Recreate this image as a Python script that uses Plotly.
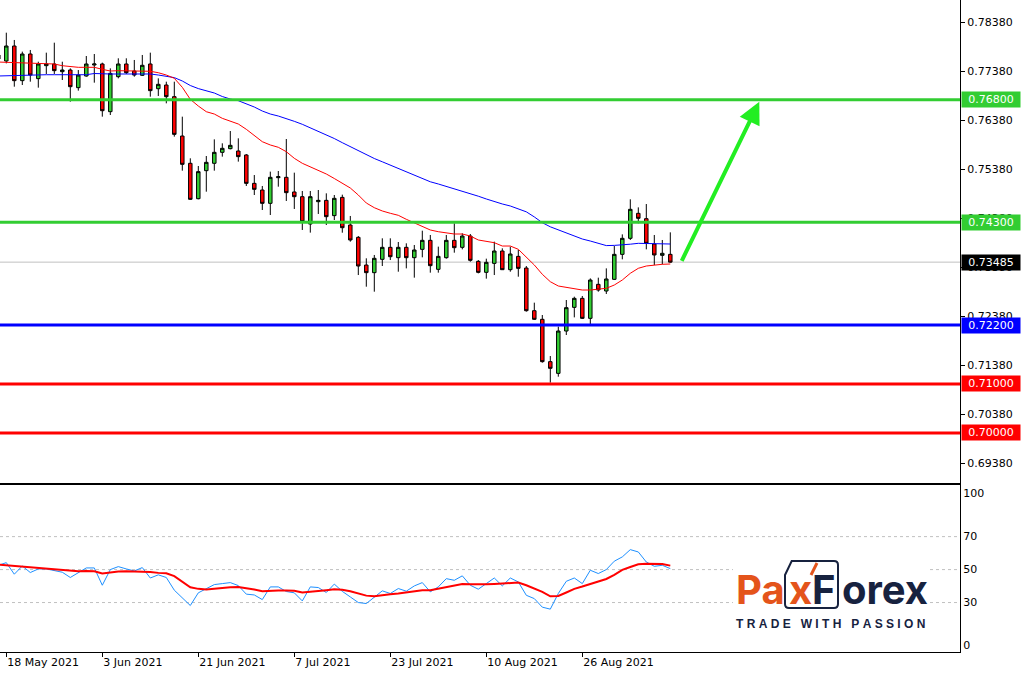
import plotly.graph_objects as go

# ---------------- data ----------------
month_days = [
    ("05", [17, 18, 19, 20, 21, 24, 25, 26, 27, 28, 31]),
    ("06", [1, 2, 3, 4, 7, 8, 9, 10, 11, 14, 15, 16, 17, 18, 21, 22, 23, 24, 25, 28, 29, 30]),
    ("07", [1, 2, 5, 6, 7, 8, 9, 12, 13, 14, 15, 16, 19, 20, 21, 22, 23, 26, 27, 28, 29, 30]),
    ("08", [2, 3, 4, 5, 6, 9, 10, 11, 12, 13, 16, 17, 18, 19, 20, 23, 24, 25, 26, 27, 30, 31]),
    ("09", [1, 2, 3, 6, 7, 8, 9, 10]),
]
dates = [f"2021-{m}-{d:02d}" for m, ds in month_days for d in ds]

opens = [0.77712, 0.77590, 0.77896, 0.77189, 0.77733, 0.77230, 0.77495, 0.77529, 0.77372, 0.77406,
         0.77046, 0.77284, 0.77508, 0.77529, 0.76556, 0.77270, 0.77529, 0.77386, 0.77298, 0.77529,
         0.77025, 0.77100, 0.76862, 0.76059, 0.75502, 0.74780, 0.75352, 0.75502, 0.75726, 0.75801,
         0.75753, 0.75672, 0.75093, 0.74957, 0.74685, 0.75209, 0.75216, 0.74917, 0.74821, 0.74263,
         0.74719, 0.74746, 0.74434, 0.74807, 0.74243, 0.73991, 0.73426, 0.73270, 0.73542, 0.73787,
         0.73576, 0.73787, 0.73576, 0.73746, 0.73930, 0.73338, 0.73576, 0.73930, 0.73787, 0.74018,
         0.73501, 0.73277, 0.73460, 0.73712, 0.73331, 0.73603, 0.73365, 0.72494, 0.72318, 0.71454,
         0.71215, 0.72079, 0.72562, 0.72746, 0.72338, 0.73032, 0.72896, 0.73134, 0.73644, 0.73971,
         0.74481, 0.74372, 0.73855, 0.73624, 0.73644]
highs = [0.77760, 0.78168, 0.78019, 0.77781, 0.77815, 0.77576, 0.77760, 0.77964, 0.77576, 0.77440,
         0.77406, 0.77692, 0.77733, 0.77556, 0.77440, 0.77645, 0.77645, 0.77611, 0.77713, 0.77760,
         0.77236, 0.77168, 0.77168, 0.76454, 0.75604, 0.75447, 0.75651, 0.75991, 0.75910, 0.76161,
         0.76012, 0.75692, 0.75263, 0.75039, 0.75332, 0.75345, 0.75998, 0.75311, 0.74937, 0.74937,
         0.74957, 0.74889, 0.74855, 0.74862, 0.74427, 0.74018, 0.73563, 0.73631, 0.73971, 0.73971,
         0.73896, 0.73869, 0.73835, 0.74127, 0.74039, 0.73801, 0.74039, 0.74277, 0.74073, 0.74059,
         0.73528, 0.73556, 0.73903, 0.73767, 0.73801, 0.73733, 0.73406, 0.72658, 0.72406, 0.71569,
         0.72168, 0.72712, 0.72780, 0.72794, 0.73154, 0.73168, 0.73358, 0.73814, 0.74052, 0.74767,
         0.74603, 0.74671, 0.74039, 0.73937, 0.74093]
lows = [0.77590, 0.77542, 0.77066, 0.77100, 0.77168, 0.77046, 0.77325, 0.77325, 0.77202, 0.76760,
        0.76985, 0.77270, 0.77148, 0.76454, 0.76488, 0.77236, 0.77325, 0.77270, 0.77284, 0.76862,
        0.76876, 0.76726, 0.76046, 0.75352, 0.74753, 0.74767, 0.74923, 0.75352, 0.75638, 0.75787,
        0.75536, 0.75039, 0.74855, 0.74549, 0.74447, 0.75025, 0.74733, 0.74570, 0.74141, 0.74087,
        0.74468, 0.74243, 0.74345, 0.74086, 0.73903, 0.73222, 0.72984, 0.72882, 0.73406, 0.73528,
        0.73290, 0.73358, 0.73168, 0.73583, 0.73270, 0.73270, 0.73556, 0.73678, 0.73746, 0.73494,
        0.73256, 0.73148, 0.73222, 0.73324, 0.73290, 0.73188, 0.72474, 0.72304, 0.71433, 0.71025,
        0.71147, 0.71998, 0.72358, 0.72324, 0.72222, 0.72882, 0.72835, 0.73120, 0.73542, 0.73937,
        0.74277, 0.73746, 0.73426, 0.73440, 0.73474]
closes = [0.77631, 0.77896, 0.77189, 0.77733, 0.77304, 0.77529, 0.77529, 0.77393, 0.77406, 0.77066,
          0.77304, 0.77529, 0.77529, 0.76576, 0.77338, 0.77529, 0.77352, 0.77304, 0.77502, 0.76985,
          0.77114, 0.76862, 0.76093, 0.75481, 0.74767, 0.75332, 0.75522, 0.75726, 0.75808, 0.75869,
          0.75638, 0.75093, 0.74971, 0.74685, 0.75216, 0.75229, 0.74903, 0.74821, 0.74311, 0.74821,
          0.74746, 0.74413, 0.74787, 0.74188, 0.73937, 0.73406, 0.73270, 0.73563, 0.73787, 0.73596,
          0.73787, 0.73576, 0.73733, 0.73930, 0.73413, 0.73603, 0.73930, 0.73780, 0.74018, 0.73522,
          0.73277, 0.73481, 0.73712, 0.73331, 0.73651, 0.73358, 0.72494, 0.72318, 0.71454, 0.71318,
          0.72079, 0.72556, 0.72746, 0.72338, 0.73120, 0.72916, 0.73141, 0.73644, 0.73971, 0.74563,
          0.74379, 0.73869, 0.73631, 0.73665, 0.73485]

ma_fast = [0.77569, 0.77563, 0.77563, 0.77555, 0.77549, 0.77543, 0.77543, 0.77529, 0.77494, 0.77473,
           0.77461, 0.77461, 0.77461, 0.77420, 0.77386, 0.77392, 0.77392, 0.77392, 0.77386, 0.77380,
           0.77351, 0.77304, 0.77237, 0.77053, 0.76808, 0.76671, 0.76555, 0.76508, 0.76420, 0.76365,
           0.76304, 0.76196, 0.76065, 0.75943, 0.75876, 0.75829, 0.75739, 0.75604, 0.75502, 0.75433,
           0.75365, 0.75284, 0.75192, 0.75100, 0.74998, 0.74855, 0.74692, 0.74596, 0.74529, 0.74482,
           0.74441, 0.74359, 0.74290, 0.74223, 0.74141, 0.74106, 0.74086, 0.74059, 0.74059, 0.74018,
           0.73937, 0.73916, 0.73882, 0.73814, 0.73814, 0.73747, 0.73596, 0.73427, 0.73237, 0.73086,
           0.72998, 0.72972, 0.72943, 0.72916, 0.72916, 0.72931, 0.72951, 0.73018, 0.73120, 0.73257,
           0.73359, 0.73406, 0.73427, 0.73441, 0.73447]
ma_slow = [0.77284, 0.77290, 0.77296, 0.77304, 0.77308, 0.77310, 0.77310, 0.77310, 0.77310, 0.77310,
           0.77310, 0.77310, 0.77335, 0.77325, 0.77325, 0.77325, 0.77325, 0.77325, 0.77325, 0.77325,
           0.77304, 0.77274, 0.77251, 0.77182, 0.77090, 0.77027, 0.76982, 0.76937, 0.76865, 0.76814,
           0.76780, 0.76718, 0.76651, 0.76569, 0.76508, 0.76467, 0.76418, 0.76359, 0.76298, 0.76227,
           0.76155, 0.76084, 0.76008, 0.75923, 0.75839, 0.75757, 0.75676, 0.75600, 0.75533, 0.75465,
           0.75392, 0.75318, 0.75249, 0.75186, 0.75125, 0.75080, 0.75033, 0.74984, 0.74929, 0.74880,
           0.74831, 0.74774, 0.74716, 0.74672, 0.74631, 0.74576, 0.74512, 0.74408, 0.74290, 0.74206,
           0.74145, 0.74080, 0.74018, 0.73957, 0.73916, 0.73872, 0.73823, 0.73827, 0.73835, 0.73851,
           0.73869, 0.73869, 0.73869, 0.73869, 0.73855]

osc_main = [52.6, 54.2, 47.2, 52.2, 48.2, 50.4, 50.4, 49.2, 48.4, 45.2, 48.0, 51.0, 51.0, 40.5, 50.0,
            51.8, 50.4, 49.2, 51.2, 44.9, 46.8, 45.2, 37.5, 33.0, 28.2, 35.9, 38.3, 40.9, 41.5, 42.1,
            40.3, 35.1, 34.6, 31.8, 39.5, 39.5, 36.7, 35.9, 31.0, 39.5, 39.1, 36.1, 41.2, 36.8, 33.4,
            30.0, 29.4, 33.4, 37.1, 35.5, 38.5, 36.9, 40.1, 42.1, 36.5, 39.5, 44.5, 43.5, 46.2, 40.5,
            38.1, 41.5, 44.9, 40.1, 44.9, 42.5, 34.4, 32.4, 27.2, 26.0, 35.5, 42.9, 44.9, 41.5, 49.6,
            47.6, 50.0, 55.1, 57.7, 62.1, 60.7, 54.6, 52.0, 52.6, 50.6]
osc_signal = [53.0, 52.6, 52.2, 51.8, 51.2, 50.8, 50.4, 50.2, 49.8, 49.4, 49.0, 49.2, 49.0, 47.6, 48.4,
              48.8, 49.0, 49.0, 49.0, 48.6, 48.0, 47.8, 46.0, 42.5, 39.3, 38.3, 37.9, 38.3, 38.9, 39.3,
              39.5, 38.9, 37.9, 36.9, 37.3, 37.3, 37.3, 37.1, 36.1, 36.7, 37.1, 37.5, 38.0, 37.7, 36.9,
              35.7, 34.2, 33.8, 34.6, 35.1, 35.5, 36.3, 37.1, 37.5, 37.5, 38.5, 39.7, 40.5, 41.3, 41.1,
              40.9, 41.1, 41.3, 41.5, 41.9, 42.1, 40.5, 38.7, 36.5, 33.8, 34.0, 36.1, 38.3, 39.7, 41.3,
              42.7, 44.3, 46.8, 49.8, 51.6, 53.2, 53.6, 53.6, 53.4, 52.4]

n = len(dates)
for arr in (opens, highs, lows, closes, ma_fast, ma_slow, osc_main, osc_signal):
    assert len(arr) == n, len(arr)

date_tick_vals = ["2021-05-18", "2021-06-03", "2021-06-21", "2021-07-07",
                  "2021-07-23", "2021-08-10", "2021-08-26"]
date_tick_text = ["18 May 2021", "3 Jun 2021", "21 Jun 2021", "7 Jul 2021",
                  "23 Jul 2021", "10 Aug 2021", "26 Aug 2021"]
price_ticks = [0.69380, 0.70380, 0.71380, 0.72380, 0.73380,
               0.74380, 0.75380, 0.76380, 0.77380, 0.78380]
level_prices = [0.76800, 0.74300, 0.72200, 0.71000, 0.70000]
level_colors = ["#32CD32", "#32CD32", "#0000FF", "#FF0000", "#FF0000"]
current_price = closes[-1]
osc_levels = [70, 50, 30]
osc_tick_vals = [3.9, 30, 50, 70, 96.5]
osc_tick_text = ["0", "30", "50", "70", "100"]
target_price = 0.76759          # arrow tip
arrow_start_price = 0.73482
arrow_start_idx, arrow_end_idx = 85.34, 95.125

# ---------------- geometry ----------------
W, H = 1021, 673
ML, MR, MT, MB = 0, 61, 0, 21
PW, PH = W - ML - MR, H - MT - MB
X_RANGE = [0.2125, 120.2125]
MAIN_DOMAIN = [0.2597, 1.0]
OSC_DOMAIN = [0.0, 0.2566]
FONT = "DejaVu Sans"

def px(xp):
    return xp / PW

def py(yp):
    return (PH - yp) / PH

fig = go.Figure()

fig.add_trace(go.Scatter(x=dates, y=ma_slow, mode="lines", line=dict(color="#0000FF", width=1),
                         hoverinfo="skip", xaxis="x", yaxis="y"))
fig.add_trace(go.Scatter(x=dates, y=ma_fast, mode="lines", line=dict(color="#FF0000", width=1),
                         hoverinfo="skip", xaxis="x", yaxis="y"))
fig.add_trace(go.Candlestick(
    x=dates, open=opens, high=highs, low=lows, close=closes,
    increasing=dict(line=dict(color="black", width=1), fillcolor="#32CD32"),
    decreasing=dict(line=dict(color="black", width=1), fillcolor="#FF0000"),
    whiskerwidth=0, hoverinfo="skip", xaxis="x", yaxis="y"))

fig.add_trace(go.Scatter(x=dates, y=osc_main, mode="lines", line=dict(color="#1E90FF", width=1),
                         hoverinfo="skip", xaxis="x2", yaxis="y2"))
fig.add_trace(go.Scatter(x=dates, y=osc_signal, mode="lines", line=dict(color="#FF0000", width=2),
                         hoverinfo="skip", xaxis="x2", yaxis="y2"))

shapes = []
# current price line
shapes.append(dict(type="line", xref="paper", x0=0, x1=1, yref="y", y0=current_price, y1=current_price,
                   line=dict(color="#C0C0C0", width=1), layer="below"))
for lv, col in zip(level_prices, level_colors):
    shapes.append(dict(type="line", xref="paper", x0=0, x1=1, yref="y", y0=lv, y1=lv,
                       line=dict(color=col, width=3), layer="above"))
for lv in osc_levels:
    shapes.append(dict(type="line", xref="paper", x0=0, x1=1, yref="y2", y0=lv, y1=lv,
                       line=dict(color="#C0C0C0", width=1, dash="3px,3px"), layer="below"))
# logo backdrop + frame
shapes.append(dict(type="rect", xref="paper", yref="paper", x0=px(733), x1=px(928), y0=py(632), y1=py(558),
                   fillcolor="white", line=dict(width=0), layer="above"))
NAVY = "#17223F"
ORANGE = "#E4541B"
frame = (f"M {px(785)},{py(575)} L {px(791.7)},{py(561)} L {px(834)},{py(561)} "
         f"Q {px(838)},{py(561)} {px(838)},{py(565)} L {px(838)},{py(604)} "
         f"Q {px(838)},{py(608)} {px(834)},{py(608)} L {px(789)},{py(608)} "
         f"Q {px(785)},{py(608)} {px(785)},{py(604)} Z")
shapes.append(dict(type="path", xref="paper", yref="paper", path=frame,
                   line=dict(color=NAVY, width=2), layer="above"))
shapes.append(dict(type="line", xref="paper", yref="paper", x0=px(811), y0=py(575), x1=px(817), y1=py(563),
                   line=dict(color=ORANGE, width=3), layer="above"))

annotations = []
for lv, col in zip(level_prices, level_colors):
    annotations.append(dict(x=1, xref="paper", xanchor="left", xshift=1, y=lv, yref="y", yanchor="middle",
                            text=f"{lv:.5f}", showarrow=False, bgcolor=col, borderpad=1, width=56,
                            align="center", font=dict(family=FONT, size=11, color="white")))
annotations.append(dict(x=1, xref="paper", xanchor="left", xshift=1, y=current_price, yref="y", yanchor="middle",
                        text=f"{current_price:.5f}", showarrow=False, bgcolor="black", borderpad=1, width=56,
                        align="center", font=dict(family=FONT, size=11, color="white")))
annotations.append(dict(x=arrow_end_idx, y=target_price, xref="x", yref="y",
                        ax=arrow_start_idx, ay=arrow_start_price, axref="x", ayref="y",
                        text="", showarrow=True, arrowhead=2, arrowsize=1.1, arrowwidth=4,
                        arrowcolor="#22EE22", standoff=0, startstandoff=0))
# logo text
LOGO_Y = py(589)
LOGO_FONT = "Inter"
annotations += [
    dict(x=px(787), y=LOGO_Y, xref="paper", yref="paper", xanchor="right", yanchor="middle", showarrow=False,
         text="<b>Pa</b>", font=dict(family=LOGO_FONT, size=40, color=ORANGE)),
    dict(x=px(800), y=LOGO_Y, xref="paper", yref="paper", xanchor="center", yanchor="middle", showarrow=False,
         text="<b>x</b>", font=dict(family=LOGO_FONT, size=40, color=ORANGE)),
    dict(x=px(823), y=LOGO_Y, xref="paper", yref="paper", xanchor="center", yanchor="middle", showarrow=False,
         text="<b>F</b>", font=dict(family=LOGO_FONT, size=40, color=NAVY)),
    dict(x=px(840), y=LOGO_Y, xref="paper", yref="paper", xanchor="left", yanchor="middle", showarrow=False,
         text="<b>orex</b>", font=dict(family=LOGO_FONT, size=40, color=NAVY)),
]
nb = "\u00a0"
slogan_words = ["TRADE", "WITH", "PASSION"]
slogan = (nb * 3).join(nb.join(w) for w in slogan_words)
annotations.append(dict(x=px(830), y=py(624), xref="paper", yref="paper", xanchor="center", yanchor="middle",
                        showarrow=False, text=f"<b>{slogan}</b>",
                        font=dict(family="Liberation Sans", size=12, color=NAVY)))

fig.update_layout(
    width=W, height=H, margin=dict(l=ML, r=MR, t=MT, b=MB),
    paper_bgcolor="white", plot_bgcolor="white", showlegend=False,
    font=dict(family=FONT, size=11, color="black"),
    boxgap=0.38, hovermode=False,
    xaxis=dict(type="category", domain=[0, 1], anchor="y", range=X_RANGE, categoryorder="array",
               categoryarray=dates, showticklabels=False, ticks="", showgrid=False, zeroline=False,
               showline=True, linecolor="black", linewidth=1, rangeslider=dict(visible=False),
               fixedrange=True),
    yaxis=dict(domain=MAIN_DOMAIN, anchor="x", side="right", range=[0.68984, 0.78835],
               tickvals=price_ticks, ticktext=[f"{v:.5f}" for v in price_ticks],
               ticks="outside", ticklen=4, tickcolor="black", showgrid=False, zeroline=False,
               showline=True, linecolor="black", linewidth=1, automargin=False,
               tickfont=dict(family=FONT, size=11, color="black")),
    xaxis2=dict(type="category", domain=[0, 1], anchor="y2", range=X_RANGE, categoryorder="array",
                categoryarray=dates, tickvals=date_tick_vals, ticktext=date_tick_text,
                ticks="outside", ticklen=4, tickcolor="black", ticklabelposition="outside right",
                showgrid=False, zeroline=False, showline=True, mirror=True, linecolor="black",
                linewidth=1, automargin=False, tickfont=dict(family=FONT, size=11, color="black")),
    yaxis2=dict(domain=OSC_DOMAIN, anchor="x2", side="right", range=[0, 101.5],
                tickvals=osc_tick_vals, ticktext=osc_tick_text, ticks="", showgrid=False,
                zeroline=False, showline=True, linecolor="black", linewidth=1, automargin=False,
                tickfont=dict(family=FONT, size=11, color="black")),
    shapes=shapes, annotations=annotations,
)

fig.write_html("out.html", config={"displayModeBar": False},
               post_script="document.body.style.margin='0';document.body.style.overflow='hidden';")
